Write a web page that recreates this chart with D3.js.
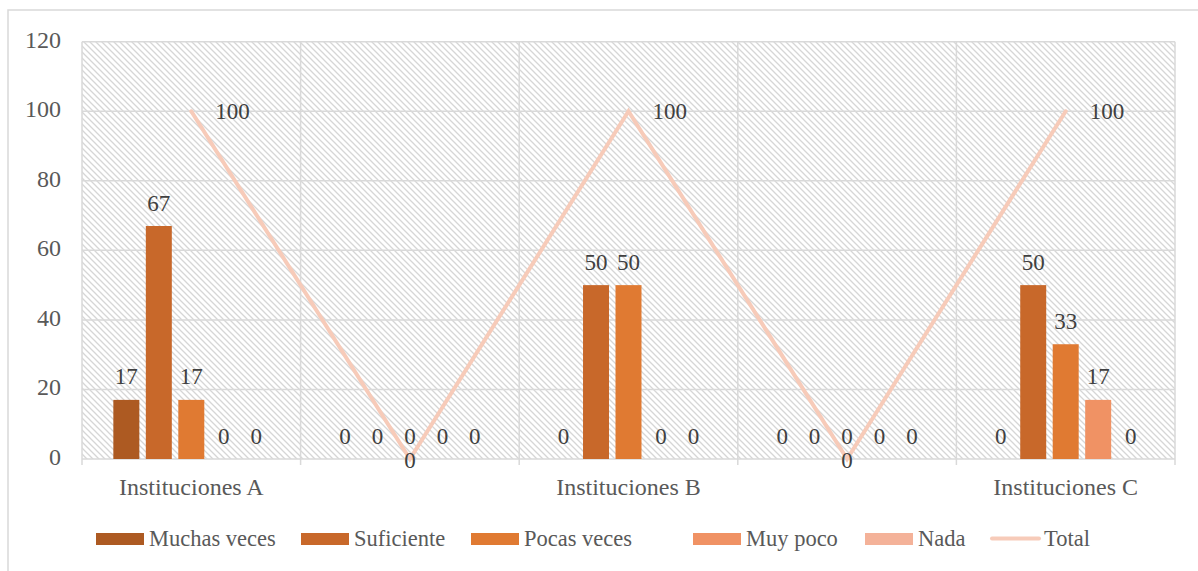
<!DOCTYPE html>
<html><head><meta charset="utf-8">
<script src="https://cdn.jsdelivr.net/npm/d3@7"></script>
<style>body{margin:0;background:#fff}svg{display:block}text{font-family:"Liberation Serif","Times New Roman",serif}</style>
</head><body><svg id="c" width="1198" height="571"></svg>
<script>
const categories = ["Instituciones A", "", "Instituciones B", " ", "Instituciones C"];
const seriesNames = ["Muchas veces", "Suficiente", "Pocas veces", "Muy poco", "Nada"];
const muchasVeces = [17, 0, 0, 0, 0];
const suficiente = [67, 0, 50, 0, 50];
const pocasVeces = [17, 0, 50, 0, 33];
const muyPoco = [0, 0, 0, 0, 17];
const nada = [0, 0, 0, 0, 0];
const total = [100, 0, 100, 0, 100];
const yTicks = [0, 20, 40, 60, 80, 100, 120];
const colors = ["#ad5a22", "#c8682a", "#e07a32", "#f09264", "#f4b299"];
const lineColor = "#f7cbb9";

const seriesValues = [muchasVeces, suficiente, pocasVeces, muyPoco, nada];
const svg = d3.select("#c");
const m = {l: 82, r: 1175, t: 41.7, b: 459};

svg.append("rect").attr("x", 8).attr("y", 10).attr("width", 1200).attr("height", 580)
  .attr("fill", "#fff").attr("stroke", "#d9d9d9").attr("stroke-width", 1.5);

const defs = svg.append("defs");
const pat = defs.append("pattern").attr("id", "hatch").attr("patternUnits", "userSpaceOnUse")
  .attr("width", 6).attr("height", 6);
pat.append("rect").attr("width", 6).attr("height", 6).attr("fill", "#fff");
pat.append("path").attr("d", "M0,0L6,6M-1,5L1,7M5,-1L7,1").attr("stroke", "#d6d6d6").attr("stroke-width", 1.3);

const x = d3.scaleBand().domain(categories).range([m.l, m.r]).padding(0);
const y = d3.scaleLinear().domain([0, 120]).range([m.b, m.t]);
const xs = d3.scaleBand().domain(seriesNames).range([0, x.bandwidth()]).paddingInner(0.2).paddingOuter(0.965);

svg.append("rect").attr("x", m.l).attr("y", m.t).attr("width", m.r - m.l).attr("height", m.b - m.t)
  .attr("fill", "url(#hatch)");

// horizontal gridlines
svg.append("g").selectAll("line").data(yTicks).join("line")
  .attr("x1", m.l).attr("x2", m.r).attr("y1", d => y(d)).attr("y2", d => y(d))
  .attr("stroke", "#d9d9d9").attr("stroke-width", 1.5);

// vertical gridlines at category boundaries
const bounds = categories.map(c => x(c)).concat([x(categories[categories.length - 1]) + x.bandwidth()]);
svg.append("g").selectAll("line").data(bounds).join("line")
  .attr("x1", d => d).attr("x2", d => d).attr("y1", m.t).attr("y2", m.b + 6)
  .attr("stroke", "#d9d9d9").attr("stroke-width", 1.5);

// y tick labels
svg.append("g").selectAll("text").data(yTicks).join("text")
  .attr("x", 61).attr("y", d => y(d) + 6).attr("text-anchor", "end")
  .attr("font-size", 24).attr("fill", "#595959").text(d => d);

// x labels
svg.append("g").selectAll("text").data(categories).join("text")
  .attr("x", d => x(d) + x.bandwidth() / 2).attr("y", 495).attr("text-anchor", "middle")
  .attr("font-size", 24).attr("fill", "#595959").text(d => d.trim());

// bars
seriesNames.forEach((s, si) => {
  const g = svg.append("g");
  const data = categories.map((c, ci) => ({c, v: seriesValues[si][ci]}));
  g.selectAll("rect").data(data).join("rect")
    .attr("x", d => x(d.c) + xs(s)).attr("width", xs.bandwidth())
    .attr("y", d => y(d.v)).attr("height", d => m.b - y(d.v))
    .attr("fill", colors[si]);
  g.selectAll("text").data(data).join("text")
    .attr("x", d => x(d.c) + xs(s) + xs.bandwidth() / 2).attr("y", d => y(d.v) - 15.5)
    .attr("text-anchor", "middle").attr("font-size", 23).attr("fill", "#404040").text(d => d.v);
});

// total line
const line = d3.line().x((d, i) => x(categories[i]) + x.bandwidth() / 2).y(d => y(d));
svg.append("path").datum(total).attr("d", line).attr("fill", "none")
  .attr("stroke", lineColor).attr("stroke-width", 4).attr("stroke-linecap", "round");
svg.append("g").selectAll("text").data(total).join("text")
  .attr("x", (d, i) => x(categories[i]) + x.bandwidth() / 2 + (d > 0 ? 24 : 0))
  .attr("y", d => d > 0 ? y(d) + 8 : y(d) + 9)
  .attr("text-anchor", d => d > 0 ? "start" : "middle")
  .attr("font-size", 23).attr("fill", "#404040").text(d => d);

// legend
const legendItems = seriesNames.map((s, i) => ({name: s, color: colors[i], type: "rect"}))
  .concat([{name: "Total", color: lineColor, type: "line"}]);
const legendX = [96, 301, 471, 693, 865, 990];
const lg = svg.append("g");
legendItems.forEach((it, i) => {
  const x0 = legendX[i];
  if (it.type === "rect") {
    lg.append("rect").attr("x", x0).attr("y", 533).attr("width", 48).attr("height", 12).attr("fill", it.color);
    lg.append("text").attr("x", x0 + 53).attr("y", 546).attr("font-size", 22.5).attr("fill", "#595959").text(it.name);
  } else {
    lg.append("line").attr("x1", x0 + 2).attr("x2", x0 + 49).attr("y1", 538.5).attr("y2", 538.5)
      .attr("stroke", it.color).attr("stroke-width", 4).attr("stroke-linecap", "round");
    lg.append("text").attr("x", x0 + 54).attr("y", 546).attr("font-size", 22.5).attr("fill", "#595959").text(it.name);
  }
});
</script></body></html>
